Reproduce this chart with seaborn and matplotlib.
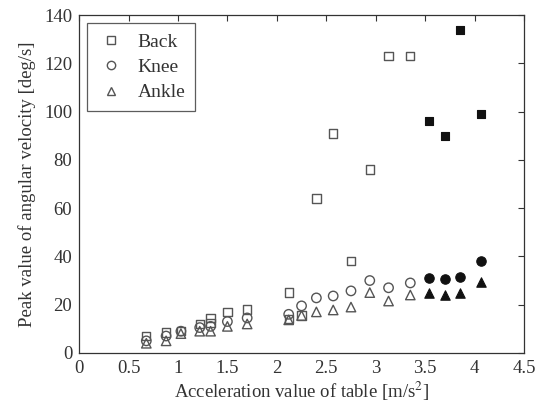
import matplotlib
matplotlib.use("Agg")
import matplotlib.pyplot as plt
from matplotlib.lines import Line2D
import seaborn as sns
import pandas as pd

# Table acceleration [m/s^2] for each trial
accel_open = [0.68, 0.88, 1.03, 1.22, 1.33, 1.50, 1.70, 2.12, 2.25, 2.40, 2.57, 2.75, 2.94, 3.13, 3.35]
back_open = [7, 8.5, 9, 12, 14.5, 17, 18, 25, 15.5, 64, 91, 38, 76, 123, 123]
knee_open = [5, 7, 9, 10.5, 11, 13, 14.5, 16, 19.5, 22.8, 23.6, 25.7, 30, 27, 29]
ankle_open = [4, 5, 8, 9, 9, 11, 12, 13.7, 15.5, 17, 17.8, 19, 25, 21.5, 24]

# additional back trials
accel_back_extra = [1.33, 2.12]
back_extra = [12.5, 14]

# trials shown with filled markers
accel_filled = [3.54, 3.70, 3.85, 4.06]
back_filled = [96, 90, 134, 99]
knee_filled = [31, 30.5, 31.5, 38]
ankle_filled = [25, 24, 25, 29.5]

joints = ["Back", "Knee", "Ankle"]
markers = {"Back": "s", "Knee": "o", "Ankle": "^"}

rows = []
for j, vals in zip(joints, [back_open, knee_open, ankle_open]):
    rows += [dict(accel=a, vel=v, joint=j, filled=False) for a, v in zip(accel_open, vals)]
rows += [dict(accel=a, vel=v, joint="Back", filled=False) for a, v in zip(accel_back_extra, back_extra)]
for j, vals in zip(joints, [back_filled, knee_filled, ankle_filled]):
    rows += [dict(accel=a, vel=v, joint=j, filled=True) for a, v in zip(accel_filled, vals)]
df = pd.DataFrame(rows)

sns.set_style("white")
plt.rcParams["font.family"] = ["Liberation Serif", "DejaVu Serif"]
plt.rcParams["mathtext.fontset"] = "stix"

ink = "#333333"
fig = plt.figure(figsize=(5.38, 4.08), dpi=100)
ax = fig.add_axes([0.147, 0.135, 0.827, 0.828])

sizes = {"Back": 36, "Knee": 46, "Ankle": 46}
for j in joints:
    sub = df[(df.joint == j) & (~df.filled)]
    sns.scatterplot(data=sub, x="accel", y="vel", marker=markers[j], s=sizes[j],
                    facecolor="none", edgecolor="#555555", linewidth=1.0, ax=ax, legend=False)
    sub = df[(df.joint == j) & (df.filled)]
    sns.scatterplot(data=sub, x="accel", y="vel", marker=markers[j], s=sizes[j],
                    color="#111111", edgecolor="#111111", linewidth=0.8, ax=ax, legend=False)

ax.set_xlim(0, 4.5)
ax.set_ylim(0, 140)
ax.set_xticks([0, 0.5, 1, 1.5, 2, 2.5, 3, 3.5, 4, 4.5])
ax.set_xticklabels(["0", "0.5", "1", "1.5", "2", "2.5", "3", "3.5", "4", "4.5"])
ax.set_yticks(range(0, 141, 20))
ax.tick_params(direction="in", length=4, width=0.8, colors=ink, labelsize=13.5,
               top=True, right=True, labelcolor=ink, pad=5)
for s in ax.spines.values():
    s.set_color(ink)
    s.set_linewidth(0.9)

ax.set_xlabel("Acceleration value of table [m/s$^2$]", fontsize=13.5, color=ink, labelpad=2)
ax.set_ylabel("Peak value of angular velocity [deg/s]", fontsize=13.5, color=ink, labelpad=6)

handles = [Line2D([], [], linestyle="none", marker=markers[j], markersize=6,
                  markerfacecolor="none", markeredgecolor="#555555", markeredgewidth=1.0)
           for j in joints]
leg = ax.legend(handles, joints, loc="upper left", fontsize=14, frameon=True,
                fancybox=False, edgecolor=ink, borderpad=0.5, handletextpad=0.6,
                handlelength=1.5, labelspacing=0.4, bbox_to_anchor=(0.018, 0.976),
                borderaxespad=0)
leg.get_frame().set_linewidth(0.9)
for t in leg.get_texts():
    t.set_color(ink)

fig.savefig("out.png", dpi=100)
